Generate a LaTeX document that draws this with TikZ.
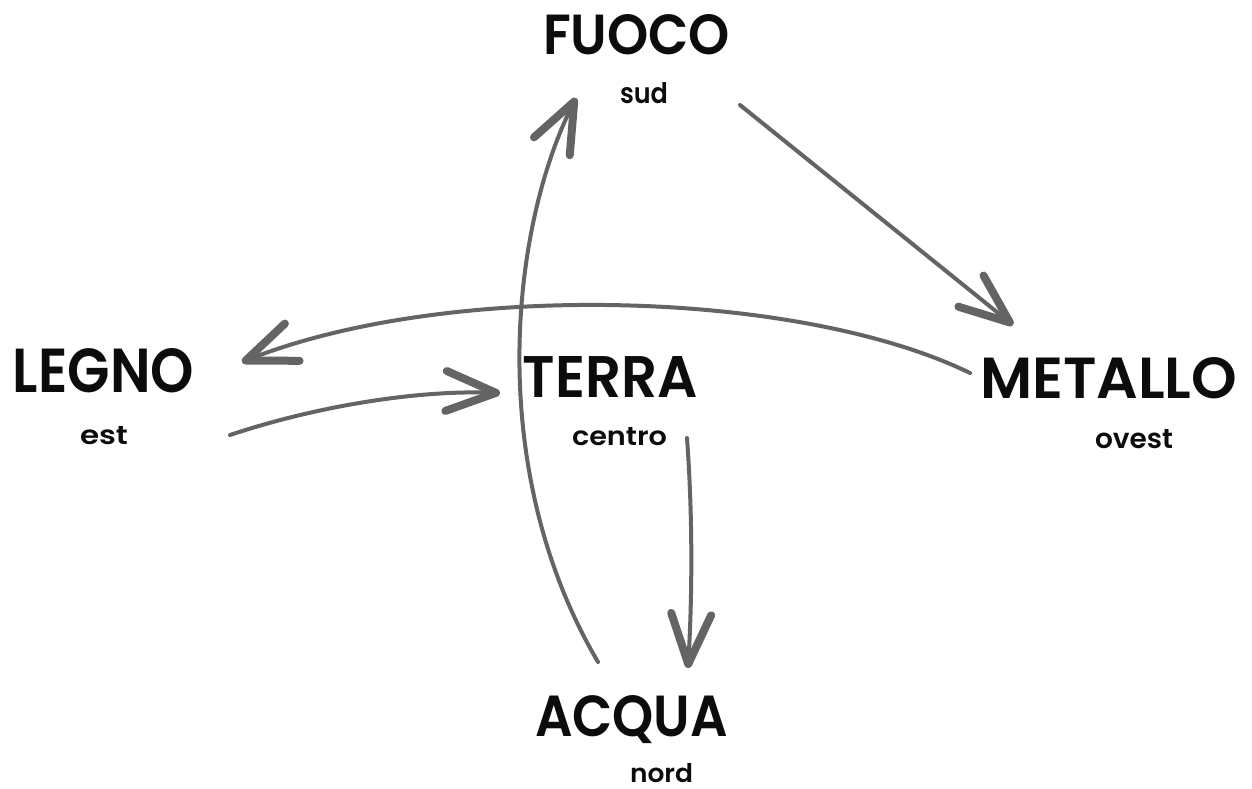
\documentclass[tikz,border=0pt]{standalone}
\usepackage{fontspec}
\setmainfont{Poppins SemiBold}
\usetikzlibrary{arrows.meta,calc}
\definecolor{pencil}{RGB}{100,100,100}
\definecolor{ink}{RGB}{12,12,12}
% a word scaled to a given width and height (in pt)
\newcommand{\fitword}[3]{\resizebox{#1pt}{#2pt}{#3}}
\begin{document}
\begin{tikzpicture}[x=1pt,y=-1pt,
  word/.style={inner sep=0pt, anchor=base, text=ink, font=\fontsize{40}{40}\selectfont},
  flow/.style={draw=pencil, line width=4pt, line cap=round,
    -{Straight Barb[length=50pt,width=40pt,line width=8pt,round]}}]
\useasboundingbox[fill=white] (0,0) rectangle (1252,789);

% the five elements and their directions
\node[word] (fuoco)   at (636.5,55)  {\fitword{187}{40}{FUOCO}};
\node[word] (sud)     at (644,104)   {\fitword{48}{21}{sud}};
\node[word] (legno)   at (103.5,392) {\fitword{181}{44}{LEGNO}};
\node[word] (est)     at (104,444)   {\fitword{48}{18}{est}};
\node[word] (terra)   at (610.5,397) {\fitword{175}{41}{TERRA}};
\node[word] (centro)  at (619.5,445) {\fitword{95}{18}{centro}};
\node[word] (metallo) at (1108.5,398){\fitword{257}{41}{METALLO}};
\node[word] (ovest)   at (1134,448)  {\fitword{78}{19}{ovest}};
\node[word] (acqua)   at (631.5,736) {\fitword{193}{41}{ACQUA}};
\node[word] (nord)    at (661.5,782) {\fitword{63}{19}{nord}};

% the cycle of arrows
\draw[flow] ($(fuoco.base)+(103.5,50)$) -- ($(metallo.base)+(-95.5,-73)$);
\draw[flow] ($(metallo.base)+(-138.5,-25)$) .. controls (800,290) and (450,280) .. ($(legno.base)+(138.5,-30)$);
\draw[flow] ($(legno.base)+(126.5,43)$) .. controls (320,405) and (420,390) .. ($(terra.base)+(-110.5,-4)$);
\draw[flow] ($(terra.base)+(76.5,41)$) .. controls (693,520) and (692,600) .. ($(acqua.base)+(56.5,-68)$);
\draw[flow] ($(acqua.base)+(-33.5,-74)$) .. controls (485,470) and (510,230) .. ($(fuoco.base)+(-60.5,43)$);
\end{tikzpicture}
\end{document}
